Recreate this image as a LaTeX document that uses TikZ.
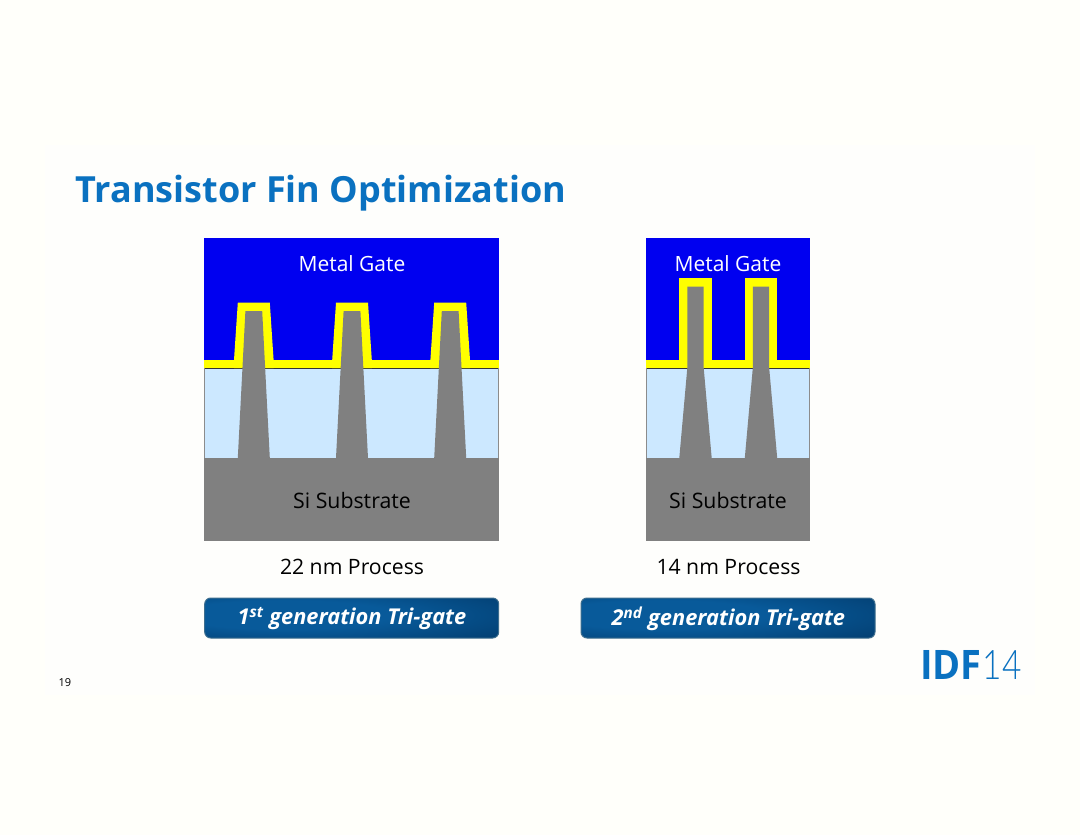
\documentclass[tikz,border=0pt]{standalone}
\usepackage{fontspec}
\setmainfont{Open Sans}
\usetikzlibrary{shadings}
\definecolor{bgc}{HTML}{FFFFFA}
\definecolor{slidec}{HTML}{FEFEFC}
\definecolor{gatec}{HTML}{0000F0}
\definecolor{yel}{HTML}{FFFF00}
\definecolor{oxide}{HTML}{CCE8FF}
\definecolor{sic}{HTML}{808080}
\definecolor{titlec}{HTML}{0A71C0}
\definecolor{btnin}{HTML}{085A9A}
\definecolor{btnout}{HTML}{002F5A}
\definecolor{btnedge}{HTML}{3E6E8E}
\pgfdeclareradialshading{btnshade}{\pgfpoint{-14bp}{5bp}}{color(0bp)=(btnin); color(18bp)=(btnin); color(58bp)=(btnout); color(100bp)=(btnout)}
\tikzset{
  x=1pt,y=-1pt,
  labeltext/.style={font=\fontsize{21}{24}\selectfont,text=white,inner sep=0pt,anchor=center},
  sitext/.style={font=\fontsize{21.3}{24}\selectfont,text=black,inner sep=0pt,anchor=center},
  proctext/.style={font=\fontsize{21.2}{24}\selectfont,text=black,inner sep=0pt,anchor=center},
  btn/.style={draw=btnedge,line width=1pt,rounded corners=6pt,anchor=center,
    shading=btnshade,minimum height=40pt},
  btntext/.style={inner sep=0pt,anchor=center,font=\fontsize{21.8}{24}\selectfont\bfseries\itshape,text=white},
}
\newcommand{\finwide}[1]{%
  \fill[yel] (#1-19.8,360)--(#1-16,302.7)--(#1+16,302.7)--(#1+19.8,360)--(#1+19.8,368)--(#1-19.8,368)--cycle;
  \fill[sic] (#1-16,458)--(#1-8.4,311)--(#1+8.4,311)--(#1+16,458)--cycle;
}
\newcommand{\finnarrow}[1]{%
  \fill[yel] (#1-16.2,278.3) rectangle (#1+16.2,368);
  \fill[sic] (#1-16.2,458)--(#1-8.2,368)--(#1-8.2,286.7)--(#1+8.2,286.7)--(#1+8.2,368)--(#1+16.2,458)--cycle;
}
\begin{document}
\begin{tikzpicture}
\useasboundingbox (0,0) rectangle (1080,835);
\fill[bgc] (0,0) rectangle (1080,835);
\fill[slidec] (45,145) rectangle (1035,695);
\node[anchor=base west,inner sep=0pt,font=\fontsize{36}{40}\selectfont\bfseries,text=titlec] (title) at (75.5,202) {Transistor Fin Optimization};
% left panel
\fill[gatec] (204,237.5) rectangle (499,360);
\fill[yel] (204,360) rectangle (499,368);
\fill[oxide] (204,368) rectangle (499,458);
\draw[black!80,line width=.6pt] (204,368.3)--(499,368.3);
\draw[black!45,line width=.5pt] (204.3,368)--(204.3,458) (498.7,368)--(498.7,458);
\fill[sic] (204,458) rectangle (499,541);
\finwide{253.8}\finwide{352}\finwide{450.2}
\node[labeltext] (g1) at (352,263.4) {Metal Gate};
\node[sitext] (s1) at (352,501) {Si Substrate};
\node[proctext] (p1) at (352,566.5) {22 nm Process};
\node[btn,inner sep=0pt,minimum width=294pt] (b1) at (351.7,618) {};
\node[btntext] (b1t) at (352,618.6) {1\textsuperscript{st} generation Tri-gate};
% right panel
\fill[gatec] (646,237.5) rectangle (810,360);
\fill[yel] (646,360) rectangle (810,368);
\fill[oxide] (646,368) rectangle (810,458);
\draw[black!80,line width=.6pt] (646,368.3)--(810,368.3);
\draw[black!45,line width=.5pt] (646.3,368)--(646.3,458) (809.7,368)--(809.7,458);
\fill[sic] (646,458) rectangle (810,541);
\finnarrow{695.5}\finnarrow{761}
\node[labeltext] (g2) at (728,263.4) {Metal Gate};
\node[sitext] (s2) at (728,501) {Si Substrate};
\node[proctext] (p2) at (728.5,566.5) {14 nm Process};
\node[btn,inner sep=0pt,minimum width=294pt] (b2) at (728,618) {};
\node[btntext] (b2t) at (728.4,618.6) {2\textsuperscript{nd} generation Tri-gate};
\node[inner sep=0pt,font=\fontsize{11}{12}\selectfont,anchor=base west] (num) at (58.5,686) {19};
\node[inner sep=0pt,anchor=base west,font=\fontsize{38}{40}\selectfont,text=titlec] (idf) at (920,679.5) {\scalebox{1}[1.07]{\bfseries IDF}\hspace{1pt}\scalebox{.88}[1.07]{\fontspec{Lato Light}14}};
\end{tikzpicture}
\end{document}
